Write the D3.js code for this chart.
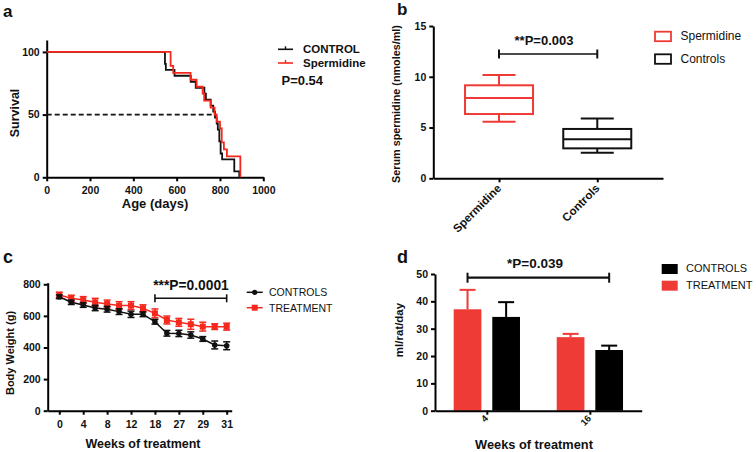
<!DOCTYPE html>
<html><head><meta charset="utf-8">
<script src="https://cdn.jsdelivr.net/npm/d3@7"></script>
<style>
body{margin:0;background:#fff;}
svg text{font-family:"Liberation Sans",Arial,sans-serif;}
</style></head>
<body>
<svg id="c" width="756" height="452"></svg>
<script>
// ---------- DATA ----------
// Panel a: Kaplan-Meier survival
const controlDays = [0,546,550,590,665,688,728,735,757,769,777,785,790,797,803,810,866,889];
const controlSurv = [100,90.5,85.7,81,76.2,71.4,66.7,61.9,57.1,52.4,47.6,42.9,38.1,28.6,19,14.3,4.8,0];
const spermDays = [0,572,584,664,692,720,727,757,775,785,800,808,818,832,894];
const spermSurv = [100,88.9,83.3,77.8,72.2,66.7,61.1,55.6,50,44.4,38.9,27.8,22.2,16.7,0];
const survTicksX = [0,200,400,600,800,1000];
const survTicksY = [0,50,100];
const medianDay = 785;

// Panel b: box plots
const boxCategories = ["Spermidine","Controls"];
const boxMin = [5.58, 2.52];
const boxQ1 = [6.33, 2.95];
const boxMedian = [7.9, 3.84];
const boxQ3 = [9.16, 4.86];
const boxMax = [10.18, 5.9];
const boxTicksY = [0,5,10,15];

// Panel c: body weight
const weekLabels = ["0","2","4","6","8","10","12","15","18","22","27","28","29","30","31"];
const controlWeight = [721,686,669,650,642,627,610,610,563,490,489,479,454,416,411];
const controlWeightErr = [12,14,15,17,18,18,20,15,15,18,20,20,15,25,25];
const treatWeight = [732,711,700,686,675,665,665,648,616,574,559,547,532,532,532];
const treatWeightErr = [18,20,22,25,25,25,25,22,28,25,25,32,28,18,22];
const weightTicksY = [0,200,400,600,800];

// Panel d: bars
const barGroups = ["4","16"];
const treatIntake = [37.1, 26.9];
const treatIntakeErr = [7.1, 1.2];
const controlIntake = [34.3, 22.2];
const controlIntakeErr = [5.4, 1.6];
const intakeTicksY = [0,10,20,30,40,50];

// ---------- DRAW ----------
const svg = d3.select("#c");
const RED = "#f5281e", BRED = "#ef3b36";
const FONT = "'Liberation Sans',Arial,sans-serif";

function styleAxis(g, fs){
  g.select(".domain").attr("stroke","#000").attr("stroke-width",2);
  g.selectAll(".tick line").attr("stroke","#000").attr("stroke-width",2);
  g.selectAll(".tick text").attr("font-family",FONT).attr("font-weight","bold").attr("font-size",fs).attr("fill","#111");
}
function txt(x,y,s,opt={}){
  const t = svg.append("text").attr("x",x).attr("y",y).text(s)
    .attr("font-size",opt.size||12).attr("font-weight",opt.bold===false?"normal":"bold")
    .attr("text-anchor",opt.anchor||"start").attr("fill",opt.fill||"#111");
  if(opt.rotate!==undefined) t.attr("transform",`rotate(${opt.rotate},${x},${y})`);
  return t;
}

// ===== Panel a =====
{
  const x = d3.scaleLinear().domain([0,1000]).range([46.7,263.3]);
  const y = d3.scaleLinear().domain([0,109.5]).range([177.3,40]);
  const gx = svg.append("g").attr("transform","translate(0,177.3)")
    .call(d3.axisBottom(x).tickValues(survTicksX).tickFormat(d3.format("d")).tickSize(4).tickSizeOuter(0));
  styleAxis(gx,10.5);
  gx.selectAll(".tick text").attr("dy","0.9em");
  const gy = svg.append("g").attr("transform","translate(46.7,0)")
    .call(d3.axisLeft(y).tickValues(survTicksY).tickSize(4).tickSizeOuter(0));
  styleAxis(gy,10.5);
  // median dashed
  svg.append("line").attr("x1",x(0)).attr("x2",x(medianDay)).attr("y1",y(50)).attr("y2",y(50))
    .attr("stroke","#111").attr("stroke-width",1.6).attr("stroke-dasharray","5,3");
  const line = d3.line().x(d=>x(d[0])).y(d=>y(d[1])).curve(d3.curveStepAfter);
  svg.append("path").datum(controlDays.map((d,i)=>[d,controlSurv[i]]))
    .attr("d",line).attr("fill","none").attr("stroke","#111").attr("stroke-width",1.8);
  svg.append("path").datum(spermDays.map((d,i)=>[d,spermSurv[i]]))
    .attr("d",line).attr("fill","none").attr("stroke",RED).attr("stroke-width",1.8);
  txt(3,17,"a",{size:17});
  txt(19,113,"Survival",{size:12.5,anchor:"middle",rotate:-90});
  txt(155,208,"Age (days)",{size:13,anchor:"middle"});
  // legend
  [["CONTROL","#111",49.3],["Spermidine",RED,63]].forEach(([n,c,yy])=>{
    svg.append("line").attr("x1",278).attr("x2",293).attr("y1",yy).attr("y2",yy).attr("stroke",c).attr("stroke-width",1.6);
    svg.append("line").attr("x1",285.5).attr("x2",285.5).attr("y1",yy-3).attr("y2",yy).attr("stroke",c).attr("stroke-width",1.4);
    txt(303,yy+3.8,n,{size:11.5});
  });
  txt(281.5,85,"P=0.54",{size:13});
}

// ===== Panel b =====
{
  const x = d3.scalePoint().domain(boxCategories).range([433.3,663]).padding(0.669);
  const y = d3.scaleLinear().domain([0,15]).range([178.3,26]);
  const gx = svg.append("g").attr("transform","translate(0,178.3)")
    .call(d3.axisBottom(x).tickSize(4).tickSizeOuter(0));
  styleAxis(gx,11);
  gx.selectAll(".tick text").remove();
  const gy = svg.append("g").attr("transform","translate(433.3,0)")
    .call(d3.axisLeft(y).tickValues(boxTicksY).tickSize(4).tickSizeOuter(0));
  styleAxis(gy,10.5);
  const colors = [BRED,"#111"];
  const bw = 68, cw = 33;
  boxCategories.forEach((c,i)=>{
    const cx = x(c), g = svg.append("g").attr("stroke",colors[i]).attr("stroke-width",2).attr("fill","none");
    g.append("rect").attr("x",cx-bw/2).attr("width",bw).attr("y",y(boxQ3[i])).attr("height",y(boxQ1[i])-y(boxQ3[i]));
    g.append("line").attr("x1",cx-bw/2).attr("x2",cx+bw/2).attr("y1",y(boxMedian[i])).attr("y2",y(boxMedian[i]));
    g.append("line").attr("x1",cx).attr("x2",cx).attr("y1",y(boxQ3[i])).attr("y2",y(boxMax[i]));
    g.append("line").attr("x1",cx).attr("x2",cx).attr("y1",y(boxQ1[i])).attr("y2",y(boxMin[i]));
    g.append("line").attr("x1",cx-cw/2).attr("x2",cx+cw/2).attr("y1",y(boxMax[i])).attr("y2",y(boxMax[i]));
    g.append("line").attr("x1",cx-cw/2).attr("x2",cx+cw/2).attr("y1",y(boxMin[i])).attr("y2",y(boxMin[i]));
    txt(cx+3,189,c,{size:11.5,anchor:"end",rotate:-45});
  });
  // significance
  const sy = 54;
  svg.append("line").attr("x1",x(boxCategories[0])).attr("x2",x(boxCategories[1])).attr("y1",sy).attr("y2",sy).attr("stroke","#111").attr("stroke-width",1.6);
  [0,1].forEach(i=>svg.append("line").attr("x1",x(boxCategories[i])).attr("x2",x(boxCategories[i])).attr("y1",sy-4.5).attr("y2",sy+4.5).attr("stroke","#111").attr("stroke-width",2));
  txt(544,45,"**P=0.003",{size:13,anchor:"middle"});
  txt(400,104,"Serum spermidine (nmoles/ml)",{size:10.8,anchor:"middle",rotate:-90});
  txt(397,15,"b",{size:17});
  // legend
  [["Spermidine",BRED,31.7],["Controls","#111",54.3]].forEach(([n,c,yy])=>{
    svg.append("rect").attr("x",655).attr("y",yy).attr("width",16).attr("height",9.5).attr("fill","none").attr("stroke",c).attr("stroke-width",1.8);
    txt(680.5,yy+8.7,n,{size:12,bold:false});
  });
}

// ===== Panel c =====
{
  const x = d3.scaleLinear().domain([-0.97,14.42]).range([47.7,231.7]);
  const y = d3.scaleLinear().domain([0,810]).range([410.7,282.7]);
  const idx = weekLabels.map((d,i)=>i);
  const gx = svg.append("g").attr("transform","translate(0,410.7)")
    .call(d3.axisBottom(x).tickValues(idx.filter(i=>i%2===0)).tickFormat(i=>weekLabels[i]).tickSize(4).tickSizeOuter(0));
  styleAxis(gx,10.5);
  gx.selectAll(".tick text").attr("dy","0.95em");
  const gy = svg.append("g").attr("transform","translate(47.7,0)")
    .call(d3.axisLeft(y).tickValues(weightTicksY).tickSize(4).tickSizeOuter(0));
  styleAxis(gy,10.5);
  const series = [
    {v:controlWeight,e:controlWeightErr,c:"#111",m:"circle"},
    {v:treatWeight,e:treatWeightErr,c:RED,m:"square"}
  ];
  series.slice().reverse().forEach(s=>{
    const g = svg.append("g");
    g.append("path").datum(s.v).attr("d",d3.line().x((d,i)=>x(i)).y(d=>y(d)))
      .attr("fill","none").attr("stroke",s.c).attr("stroke-width",1.5);
    s.v.forEach((v,i)=>{
      const cx = x(i);
      g.append("line").attr("x1",cx).attr("x2",cx).attr("y1",y(v-s.e[i])).attr("y2",y(v+s.e[i])).attr("stroke",s.c).attr("stroke-width",1.5);
      [v-s.e[i],v+s.e[i]].forEach(w=>g.append("line").attr("x1",cx-3.5).attr("x2",cx+3.5).attr("y1",y(w)).attr("y2",y(w)).attr("stroke",s.c).attr("stroke-width",1.5));
      if(s.m==="circle") g.append("circle").attr("cx",cx).attr("cy",y(v)).attr("r",2.8).attr("fill",s.c);
      else g.append("rect").attr("x",cx-3).attr("y",y(v)-3).attr("width",6).attr("height",6).attr("fill",s.c);
    });
  });
  // significance
  const sy = 298.3;
  svg.append("line").attr("x1",x(8)).attr("x2",x(14)).attr("y1",sy).attr("y2",sy).attr("stroke","#111").attr("stroke-width",1.4);
  [8,14].forEach(i=>svg.append("line").attr("x1",x(i)).attr("x2",x(i)).attr("y1",sy-4).attr("y2",sy+4).attr("stroke","#111").attr("stroke-width",1.6));
  txt(191,290,"***P=0.0001",{size:13.8,anchor:"middle"});
  txt(14,353,"Body Weight (g)",{size:11,anchor:"middle",rotate:-90});
  txt(143,448,"Weeks of treatment",{size:12.5,anchor:"middle"});
  txt(3,263,"c",{size:18});
  // legend
  [["CONTROLS","#111",292.3,"circle"],["TREATMENT",RED,307.7,"square"]].forEach(([n,c,yy,m])=>{
    svg.append("line").attr("x1",246.7).attr("x2",262.7).attr("y1",yy).attr("y2",yy).attr("stroke",c).attr("stroke-width",1.5);
    if(m==="circle") svg.append("circle").attr("cx",254.7).attr("cy",yy).attr("r",2.6).attr("fill",c);
    else svg.append("rect").attr("x",251.7).attr("y",yy-3).attr("width",6).attr("height",6).attr("fill",c);
    txt(269,yy+3.8,n,{size:10.5,bold:false});
  });
}

// ===== Panel d =====
{
  const x = d3.scalePoint().domain(barGroups).range([435,641.7]).padding(0.503);
  const y = d3.scaleLinear().domain([0,50]).range([410.7,274]);
  const gy = svg.append("g").attr("transform","translate(435,0)")
    .call(d3.axisLeft(y).tickValues(intakeTicksY).tickSize(4).tickSizeOuter(0));
  styleAxis(gy,10.5);
  const off = 19.3, bw = 27.7;
  const bars = [
    {v:treatIntake,e:treatIntakeErr,c:BRED,o:-off},
    {v:controlIntake,e:controlIntakeErr,c:"#000",o:off}
  ];
  bars.forEach(b=>{
    barGroups.forEach((gname,i)=>{
      const cx = x(gname)+b.o;
      svg.append("rect").attr("x",cx-bw/2).attr("width",bw).attr("y",y(b.v[i])).attr("height",y(0)-y(b.v[i])).attr("fill",b.c);
      svg.append("line").attr("x1",cx).attr("x2",cx).attr("y1",y(b.v[i])).attr("y2",y(b.v[i]+b.e[i])).attr("stroke",b.c).attr("stroke-width",2);
      svg.append("line").attr("x1",cx-8).attr("x2",cx+8).attr("y1",y(b.v[i]+b.e[i])).attr("y2",y(b.v[i]+b.e[i])).attr("stroke",b.c).attr("stroke-width",2);
    });
  });
  const gx = svg.append("g").attr("transform","translate(0,410.7)")
    .call(d3.axisBottom(x).tickSize(4).tickSizeOuter(0));
  styleAxis(gx,9);
  gx.selectAll(".tick text").remove();
  barGroups.forEach(gname=>txt(x(gname)+2,419,gname,{size:9.5,anchor:"end",rotate:-45}));
  const sy = 277.7;
  svg.append("line").attr("x1",x(barGroups[0])-off).attr("x2",x(barGroups[1])+off).attr("y1",sy).attr("y2",sy).attr("stroke","#111").attr("stroke-width",2.2);
  [x(barGroups[0])-off,x(barGroups[1])+off].forEach(xx=>svg.append("line").attr("x1",xx).attr("x2",xx).attr("y1",sy-5).attr("y2",sy+5).attr("stroke","#111").attr("stroke-width",2));
  txt(535,267.7,"*P=0.039",{size:13.5,anchor:"middle"});
  txt(403,330,"ml/rat/day",{size:11.5,anchor:"middle",rotate:-90});
  txt(534,449,"Weeks of treatment",{size:12.8,anchor:"middle"});
  txt(397,263,"d",{size:18});
  [["CONTROLS","#000",264],["TREATMENT",BRED,280.7]].forEach(([n,c,yy])=>{
    svg.append("rect").attr("x",661.7).attr("y",yy).attr("width",16).attr("height",10).attr("fill",c);
    txt(686,yy+8,n,{size:11,bold:false});
  });
}
</script>
</body></html>
